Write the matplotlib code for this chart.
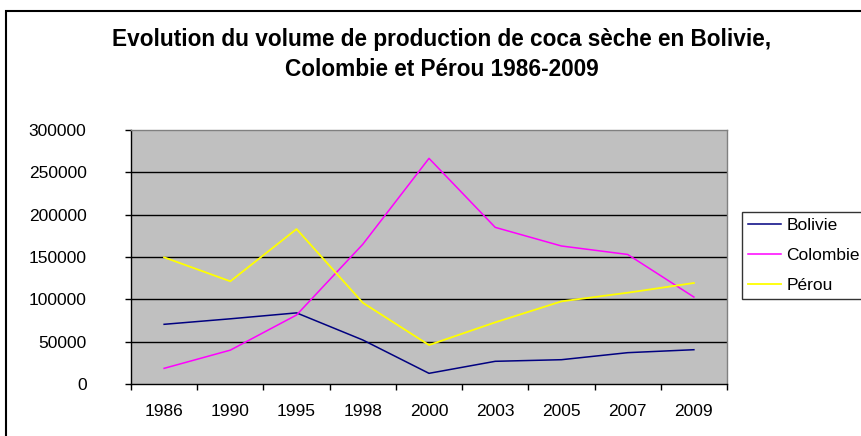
import matplotlib
matplotlib.use("Agg")
import matplotlib.pyplot as plt
from matplotlib.patches import Rectangle

plt.rcParams['font.family'] = ['Liberation Sans', 'DejaVu Sans']

years = ["1986", "1990", "1995", "1998", "2000", "2003", "2005", "2007", "2009"]
bolivie = [70500, 77000, 84000, 52000, 12600, 26800, 28700, 37000, 40500]
colombie = [18500, 40000, 81500, 165000, 266500, 185000, 163000, 153000, 102700]
perou = [149600, 121300, 183000, 96000, 46000, 72800, 97600, 107800, 119300]

W, H = 861, 436
fig = plt.figure(figsize=(W / 100, H / 100), dpi=100)

# outer chart border (clipped at right and bottom like the original)
fig.patches.append(Rectangle((6 / W, -0.1), 1.2, (H - 11) / H + 0.1,
                             transform=fig.transFigure, fill=False,
                             edgecolor='black', linewidth=1.5))

ax = fig.add_axes([131 / W, (H - 384) / H, (727 - 131) / W, (384 - 130) / H])
ax.set_facecolor('#c0c0c0')

x = list(range(len(years)))
ax.plot(x, bolivie, color='#000080', lw=1.1, label='Bolivie')
ax.plot(x, colombie, color='#ff00ff', lw=1.1, label='Colombie')
ax.plot(x, perou, color='#ffff00', lw=1.3, label='Pérou')

ax.set_xlim(-0.5, len(years) - 0.5)
ax.set_ylim(0, 300000)
ax.set_yticks(range(0, 300001, 50000))
for v in range(50000, 300000, 50000):
    ax.axhline(v, color='black', lw=1.0, zorder=1)

ax.set_xticks(x)
ax.set_xticklabels(years)
ax.set_xticks([i - 0.5 for i in range(len(years) + 1)], minor=True)
ax.tick_params(axis='x', which='major', length=0, pad=14.5, labelsize=12.5)
ax.tick_params(axis='x', which='minor', length=4, width=1, direction='out')
ax.tick_params(axis='y', length=4, width=1, direction='out', pad=28, labelsize=12.5)
for lab in ax.get_yticklabels():
    lab.set_horizontalalignment('right')

ax.spines['left'].set_color('black')
ax.spines['bottom'].set_color('black')
ax.spines['top'].set_color('#808080')
ax.spines['right'].set_color('#808080')
for s in ax.spines.values():
    s.set_linewidth(1.0)

fig.text(442 / W, (H - 46.3) / H, "Evolution du volume de production de coca sèche en Bolivie,",
         ha='center', va='baseline', fontsize=16.3, fontweight='bold')
fig.text(442 / W, (H - 75.5) / H, "Colombie et Pérou 1986-2009",
         ha='center', va='baseline', fontsize=16.3, fontweight='bold')

leg = fig.legend(loc='upper left', bbox_to_anchor=(742 / W, (H - 212) / H),
                 fontsize=12.5, frameon=True, fancybox=False, edgecolor='black',
                 handlelength=1.9, handletextpad=0.3, borderpad=0.35,
                 labelspacing=0.85, borderaxespad=0)
leg.get_frame().set_linewidth(1.0)

fig.savefig("out.png", dpi=100)
